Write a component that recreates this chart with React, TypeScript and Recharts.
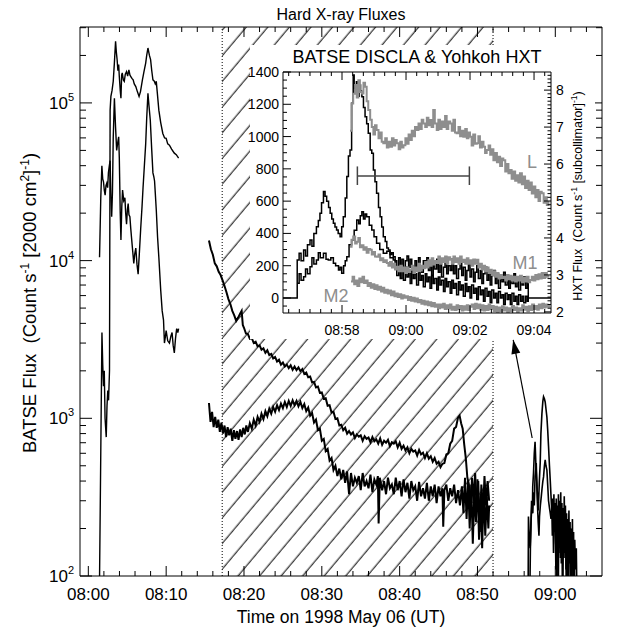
import React from 'react';
import { ComposedChart, Line, XAxis, YAxis, ReferenceArea, ReferenceLine } from 'recharts';

type Pair = [number, number];
const FONT = '"Liberation Sans", Arial, Helvetica, sans-serif';

// ================= Main panel: BATSE flux, time in minutes after 08:00 UT =================
const EARLY_A: Pair[] = [
  [1.40, 60], [1.75, 3500], [1.85, 2200], [1.95, 1600], [2.05, 2000], [2.15, 1000], [2.30, 760], [2.40, 1200],
  [2.50, 1500], [2.60, 1300], [2.72, 2000], [2.80, 90000], [2.90, 110000], [3.05, 120000], [3.20, 137000],
  [3.35, 180000], [3.50, 246000], [3.60, 210000], [3.70, 188000], [3.80, 160000], [3.90, 175000], [3.98, 147000],
  [4.10, 120000], [4.19, 107000], [4.28, 150000], [4.36, 155000], [4.50, 140000], [4.62, 137000], [4.75, 152000],
  [4.91, 158000], [5.05, 148000], [5.21, 162000], [5.35, 150000], [5.46, 147000], [5.60, 143000], [5.76, 140000],
  [5.90, 132000], [6.10, 127000], [6.30, 118000], [6.52, 110000], [6.70, 118000], [6.95, 140000], [7.15, 158000],
  [7.37, 179000], [7.50, 200000], [7.66, 223000], [7.85, 200000], [8.00, 188000], [8.15, 160000], [8.30, 140000],
  [8.45, 138000], [8.60, 132000], [8.73, 137000], [8.85, 118000], [9.06, 90000], [9.30, 75000], [9.57, 64000],
  [9.80, 60000], [10.00, 59600], [10.20, 55000], [10.42, 54000], [10.70, 51000], [11.05, 48000], [11.30, 47000],
  [11.60, 44600],
];

const EARLY_B: Pair[] = [
  [1.44, 10500], [1.60, 25000], [1.74, 40000], [1.85, 33000], [1.95, 31600], [2.05, 28000], [2.16, 26000],
  [2.27, 30000], [2.37, 31000], [2.48, 29000], [2.58, 36000], [2.70, 40000], [2.80, 43000], [2.90, 25000],
  [3.00, 19000], [3.10, 27000], [3.20, 60000], [3.35, 107000], [3.50, 70000], [3.64, 50000], [3.80, 57000],
  [3.90, 61000], [3.98, 45000], [4.10, 20000], [4.19, 13500], [4.30, 22000], [4.40, 28000], [4.55, 24000],
  [4.70, 25000], [4.80, 20000], [4.91, 17000], [5.02, 21000], [5.12, 23000], [5.22, 19500], [5.34, 19000],
  [5.45, 16000], [5.55, 14000], [5.70, 11500], [5.84, 9600], [5.96, 11000], [6.10, 12000], [6.25, 9500],
  [6.40, 8200], [6.55, 11000], [6.73, 16000], [6.90, 22000], [7.03, 29000], [7.20, 40000], [7.37, 55000],
  [7.50, 80000], [7.66, 115000], [7.80, 95000], [7.96, 78000], [8.15, 50000], [8.30, 36000], [8.42, 34000],
  [8.51, 32000], [8.60, 27000], [8.73, 21000], [8.90, 14000], [9.06, 10500], [9.30, 6500], [9.49, 4800],
  [9.66, 4200], [9.78, 3000], [9.90, 3300], [10.00, 3600], [10.20, 3100], [10.42, 3000], [10.60, 3300],
  [10.76, 3500], [10.90, 2900], [11.05, 2600], [11.20, 3200], [11.35, 3700], [11.50, 3500], [11.60, 3700],
];

const DECAY_HIGH: Pair[] = [
  [15.5, 13400], [15.75, 11800], [16.0, 10900], [16.25, 9600], [16.5, 9200], [16.75, 8500], [17.0, 8100],
  [17.25, 7500], [17.5, 6900], [17.75, 6300], [18.0, 5700], [18.25, 5300], [18.5, 4800], [18.75, 4500],
  [19.0, 4150], [19.25, 4350], [19.5, 4600], [19.7, 4800], [19.85, 3900], [20.0, 3750], [20.25, 3450],
  [20.5, 3420], [20.75, 3200], [21.0, 3230], [21.25, 3000], [21.5, 3060], [21.75, 2860], [22.0, 2900],
  [22.25, 2720], [22.5, 2780], [22.75, 2600], [23.0, 2700], [23.25, 2520], [23.5, 2560], [23.75, 2400],
  [24.0, 2450], [24.25, 2290], [24.5, 2350], [24.75, 2190], [25.0, 2260], [25.25, 2130], [25.5, 2190],
  [25.75, 2080], [26.0, 2170], [26.25, 2030], [26.5, 2130], [26.75, 2020], [27.0, 2100], [27.25, 1990],
  [27.5, 2050], [27.75, 1910], [28.0, 1950], [28.25, 1820], [28.5, 1840], [28.75, 1690], [29.0, 1700],
  [29.25, 1570], [29.5, 1590], [29.75, 1450], [30.0, 1460], [30.25, 1330], [30.5, 1340], [30.75, 1200],
  [31.0, 1210], [31.25, 1090], [31.5, 1100], [31.75, 990], [32.0, 1000], [32.25, 900], [32.5, 910],
  [32.75, 840], [33.0, 870], [33.25, 800], [33.5, 830], [33.75, 790], [34.0, 815], [34.25, 750], [34.5, 790],
  [34.75, 765], [35.0, 780], [35.25, 720], [35.5, 770], [35.75, 740], [36.0, 755], [36.25, 705], [36.5, 760],
  [36.75, 715], [37.0, 735], [37.25, 690], [37.5, 745], [37.75, 680], [38.0, 720], [38.25, 700], [38.5, 730],
  [38.75, 665], [39.0, 705], [39.25, 690], [39.5, 715], [39.75, 655], [40.0, 700], [40.25, 640], [40.5, 670],
  [40.75, 625], [41.0, 655], [41.25, 600], [41.5, 640], [41.75, 615], [42.0, 625], [42.25, 580], [42.5, 630],
  [42.75, 590], [43.0, 605], [43.25, 560], [43.5, 600], [43.75, 555], [44.0, 575], [44.25, 530], [44.5, 560],
  [44.75, 515], [45.0, 530], [45.25, 490], [45.5, 515], [45.75, 520], [46.0, 590], [46.25, 600], [46.5, 690],
  [46.75, 720], [47.0, 860], [47.25, 880], [47.5, 1010], [47.7, 1040], [47.9, 930], [48.1, 860], [48.3, 680],
  [48.5, 560], [48.7, 420], [48.9, 380], [49.1, 250], [49.3, 420], [49.5, 300], [49.7, 450], [49.9, 260],
  [50.1, 400], [50.3, 190], [50.5, 380], [50.7, 240], [50.9, 430], [51.1, 280], [51.3, 400], [51.5, 300],
];

const DECAY_LOW: Pair[] = [
  [15.5, 1250], [15.7, 950], [15.9, 1100], [16.1, 880], [16.3, 1020], [16.5, 870], [16.7, 980], [16.9, 820],
  [17.1, 940], [17.3, 800], [17.5, 900], [17.7, 760], [17.9, 880], [18.1, 780], [18.3, 860], [18.5, 720],
  [18.7, 840], [18.9, 740], [19.1, 830], [19.3, 730], [19.5, 850], [19.7, 760], [19.9, 870], [20.1, 790],
  [20.3, 900], [20.5, 820], [20.75, 930], [21.0, 860], [21.25, 980], [21.5, 900], [21.75, 1020], [22.0, 950],
  [22.25, 1070], [22.5, 990], [22.75, 1110], [23.0, 1030], [23.25, 1150], [23.5, 1070], [23.75, 1180],
  [24.0, 1100], [24.25, 1210], [24.5, 1130], [24.75, 1240], [25.0, 1160], [25.25, 1270], [25.5, 1180],
  [25.75, 1290], [26.0, 1200], [26.25, 1300], [26.5, 1210], [26.75, 1290], [27.0, 1190], [27.25, 1270],
  [27.5, 1160], [27.75, 1230], [28.0, 1110], [28.25, 1170], [28.5, 1040], [28.75, 1080], [29.0, 940],
  [29.25, 980], [29.5, 840], [29.75, 860], [30.0, 720], [30.25, 740], [30.5, 620], [30.75, 640], [31.0, 540],
  [31.25, 560], [31.5, 470], [31.75, 500], [32.0, 430], [32.25, 480], [32.5, 410], [32.75, 470], [33.0, 390],
  [33.25, 460], [33.5, 330], [33.75, 450], [34.0, 370], [34.25, 420], [34.5, 390], [34.75, 430], [35.0, 350],
  [35.25, 450], [35.5, 370], [35.75, 400], [36.0, 360], [36.25, 440], [36.5, 340], [36.75, 410], [37.0, 380],
  [37.2, 430], [37.3, 215], [37.45, 420], [37.75, 350], [38.0, 400], [38.25, 330], [38.5, 420], [38.75, 360],
  [39.0, 380], [39.25, 330], [39.5, 420], [39.75, 350], [40.0, 400], [40.25, 320], [40.5, 410], [40.75, 340],
  [41.0, 390], [41.25, 310], [41.5, 400], [41.75, 350], [42.0, 370], [42.25, 300], [42.5, 395], [42.75, 320],
  [43.0, 360], [43.25, 310], [43.5, 390], [43.75, 300], [44.0, 370], [44.25, 320], [44.5, 380], [44.75, 290],
  [45.0, 370], [45.25, 320], [45.5, 360], [45.6, 205], [45.75, 350], [46.0, 380], [46.25, 300], [46.5, 360],
  [46.75, 320], [47.0, 380], [47.25, 290], [47.5, 350], [47.75, 280], [48.0, 370], [48.2, 250], [48.4, 420],
  [48.6, 230], [48.8, 400], [49.0, 200], [49.2, 380], [49.4, 160], [49.6, 350], [49.8, 220], [50.0, 410],
  [50.2, 170], [50.4, 330], [50.6, 150], [50.8, 360], [51.0, 180], [51.2, 320], [51.4, 200], [51.5, 280],
];

const LATE_A: Pair[] = [
  [56.7, 60], [56.8, 150], [56.86, 200], [56.95, 300], [57.05, 250], [57.1, 370], [57.2, 450], [57.3, 600],
  [57.4, 710], [57.5, 520], [57.6, 405], [57.7, 330], [57.8, 260], [57.85, 290], [57.95, 400], [58.06, 520],
  [58.15, 800], [58.28, 1070], [58.4, 1280], [58.49, 1370], [58.6, 1330], [58.7, 1270], [58.8, 1150],
  [58.92, 1020], [59.02, 850], [59.13, 665], [59.25, 500], [59.35, 405], [59.45, 320], [59.56, 250],
  [59.65, 310], [59.75, 220], [59.82, 330], [59.9, 200], [59.98, 290], [60.05, 160], [60.12, 310], [60.2, 60],
  [60.26, 280], [60.33, 180], [60.4, 330], [60.47, 140], [60.55, 300], [60.62, 200], [60.7, 340], [60.77, 120],
  [60.85, 290], [60.92, 60], [61.0, 270], [61.07, 150], [61.15, 320], [61.22, 170], [61.3, 280], [61.37, 110],
  [61.45, 250], [61.52, 60], [61.6, 230], [61.67, 140], [61.75, 260], [61.82, 120], [61.9, 220], [61.97, 60],
  [62.05, 200], [62.12, 110], [62.2, 230], [62.27, 90], [62.35, 190], [62.42, 60], [62.5, 170], [62.6, 110],
  [62.7, 150], [62.8, 60],
];

const LATE_B: Pair[] = [
  [56.5, 60], [56.55, 238], [56.65, 180], [56.77, 150], [56.88, 220], [57.0, 290], [57.1, 250], [57.2, 340],
  [57.3, 280], [57.4, 430], [57.5, 480], [57.55, 520], [57.62, 400], [57.7, 290], [57.8, 220], [57.9, 180],
  [57.97, 238], [58.08, 280], [58.2, 320], [58.3, 360], [58.4, 400], [58.49, 425], [58.6, 500], [58.7, 545],
  [58.8, 500], [58.92, 470], [59.02, 380], [59.13, 300], [59.25, 270], [59.35, 250], [59.45, 230], [59.55, 270],
  [59.62, 180], [59.7, 250], [59.77, 140], [59.85, 270], [59.92, 190], [60.0, 240], [60.07, 110], [60.15, 250],
  [60.22, 170], [60.3, 220], [60.37, 60], [60.45, 240], [60.52, 150], [60.6, 260], [60.67, 130], [60.75, 220],
  [60.82, 170], [60.9, 240], [60.97, 100], [61.05, 210], [61.12, 130], [61.2, 250], [61.27, 140], [61.35, 200],
  [61.42, 60], [61.5, 190], [61.57, 120], [61.65, 230], [61.72, 100], [61.8, 180], [61.87, 130], [61.95, 200],
  [62.02, 60], [62.1, 170], [62.17, 120], [62.25, 190], [62.32, 80], [62.4, 160], [62.5, 60],
];

const ARROW: Pair[] = [[57.03, 750], [54.59, 3140]];
const HATCH_START = 17.2;
const HATCH_END = 52.0;

const MAIN_X_DOMAIN: [number, number] = [-1.07, 66];
const MAIN_Y_DOMAIN: [number, number] = [100, 303000];
const MAIN_X_MAJOR = [0, 10, 20, 30, 40, 50, 60];
const MAIN_X_LABELS = ['08:00', '08:10', '08:20', '08:30', '08:40', '08:50', '09:00'];
const MAIN_X_TICKS = [0, 2, 4, 6, 8, 10, 12, 14, 16, 18, 20, 22, 24, 26, 28, 30, 32, 34, 36, 38, 40, 42, 44, 46, 48, 50, 52, 54, 56, 58, 60, 62, 64];
const MAIN_Y_TICKS = [100, 200, 300, 400, 500, 600, 700, 800, 900, 1000, 2000, 3000, 4000, 5000, 6000, 7000, 8000, 9000,
  10000, 20000, 30000, 40000, 50000, 60000, 70000, 80000, 90000, 100000, 200000, 300000];

// ================= Inset: BATSE DISCLA (left axis) & Yohkoh HXT (right axis) =================
const INSET_BATSE_1: Pair[] = [
  [56.15, 0], [56.58, 0], [56.6, 235], [56.66, 277], [56.72, 230], [56.8, 297], [56.86, 260], [56.92, 330],
  [57.0, 360], [57.06, 320], [57.12, 400], [57.2, 442], [57.26, 480], [57.31, 525], [57.36, 590], [57.42, 660],
  [57.47, 630], [57.52, 600], [57.58, 560], [57.63, 525], [57.68, 490], [57.73, 463], [57.78, 440], [57.83, 421],
  [57.88, 400], [57.94, 380], [57.99, 442], [58.04, 504], [58.1, 620], [58.15, 752], [58.2, 880], [58.25, 917],
  [58.3, 1206], [58.35, 1382], [58.38, 1300], [58.41, 1268], [58.45, 1340], [58.48, 1300], [58.51, 1250],
  [58.54, 1320], [58.58, 1280], [58.62, 1247], [58.67, 1180], [58.72, 1123], [58.77, 1080], [58.82, 1020],
  [58.88, 917], [58.93, 897], [58.98, 793], [59.03, 720], [59.08, 649], [59.14, 560], [59.19, 504], [59.24, 440],
  [59.29, 380], [59.35, 350], [59.4, 310], [59.45, 297], [59.5, 270], [59.55, 280], [59.6, 256],
  [59.66, 230], [59.71, 190], [59.77, 250], [59.82, 200], [59.87, 240], [59.92, 170], [59.98, 230], [60.03, 260],
  [60.08, 190], [60.13, 240], [60.18, 200], [60.23, 150], [60.28, 230], [60.33, 180], [60.39, 250], [60.44, 200],
  [60.49, 160], [60.54, 230], [60.6, 190], [60.65, 250], [60.7, 170], [60.75, 220], [60.8, 140], [60.85, 210],
  [60.9, 180], [60.96, 240], [61.01, 160], [61.06, 210], [61.11, 130], [61.17, 190], [61.22, 230], [61.27, 150],
  [61.32, 200], [61.38, 170], [61.43, 240], [61.48, 150], [61.53, 200], [61.58, 120], [61.64, 180], [61.69, 220],
  [61.74, 140], [61.79, 190], [61.85, 110], [61.9, 170], [61.95, 210], [62.0, 130], [62.05, 180], [62.11, 100],
  [62.16, 160], [62.21, 200], [62.26, 120], [62.32, 170], [62.37, 90], [62.42, 150], [62.47, 190], [62.53, 110],
  [62.58, 160], [62.63, 80], [62.68, 140], [62.74, 170], [62.79, 90], [62.84, 150], [62.89, 60], [62.95, 130],
  [63.0, 100], [63.05, 160], [63.1, 80], [63.16, 140], [63.21, 60], [63.26, 120], [63.31, 90], [63.37, 150],
  [63.42, 70], [63.47, 130], [63.52, 50], [63.58, 110], [63.63, 80], [63.68, 130], [63.74, 60], [63.79, 100],
  [63.82, 0], [64.53, 0],
];

const INSET_BATSE_2: Pair[] = [
  [56.6, 91], [56.66, 150], [56.72, 110], [56.8, 132], [56.86, 180], [56.92, 150], [57.0, 194], [57.06, 250],
  [57.12, 210], [57.2, 235], [57.26, 280], [57.32, 250], [57.42, 277], [57.5, 240], [57.57, 235], [57.65, 250],
  [57.73, 215], [57.8, 200], [57.89, 173], [57.94, 190], [57.99, 153], [58.05, 200], [58.1, 230], [58.15, 256],
  [58.22, 330], [58.3, 359], [58.38, 420], [58.46, 483], [58.52, 460], [58.57, 510], [58.62, 535], [58.67, 490],
  [58.72, 520], [58.77, 504], [58.85, 450], [58.93, 421], [59.0, 380], [59.08, 339], [59.18, 300], [59.29, 277],
  [59.4, 290], [59.5, 250], [59.6, 235],
  [59.66, 180], [59.71, 140], [59.77, 200], [59.82, 120], [59.87, 170], [59.92, 110], [59.98, 190], [60.03, 130],
  [60.08, 160], [60.13, 90], [60.18, 170], [60.23, 120], [60.28, 150], [60.33, 80], [60.39, 160], [60.44, 110],
  [60.49, 140], [60.54, 70], [60.6, 150], [60.65, 100], [60.7, 130], [60.75, 60], [60.8, 140], [60.85, 90],
  [60.9, 120], [60.96, 50], [61.01, 130], [61.06, 80], [61.11, 110], [61.17, 40], [61.22, 120], [61.27, 70],
  [61.32, 100], [61.38, 30], [61.43, 110], [61.48, 60], [61.53, 90], [61.58, 20], [61.64, 100], [61.69, 50],
  [61.74, 80], [61.79, 10], [61.85, 90], [61.9, 40], [61.95, 70], [62.0, 0], [62.05, 80], [62.11, 30],
  [62.16, 60], [62.21, -10], [62.26, 70], [62.32, 20], [62.37, 50], [62.42, -20], [62.47, 60], [62.53, 10],
  [62.58, 40], [62.63, -30], [62.68, 50], [62.74, 0], [62.79, 30], [62.84, -30], [62.89, 40], [62.95, 0],
  [63.0, 20], [63.05, -40], [63.1, 30], [63.16, -10], [63.21, 20], [63.26, -40], [63.31, 30], [63.37, -20],
  [63.42, 10], [63.47, -40], [63.52, 20], [63.58, -20], [63.63, 10], [63.68, -30], [63.74, 10], [63.79, -20],
  [63.82, 0],
];

const INSET_HXT_L: Pair[] = [
  [58.25, 6.9], [58.3, 7.64], [58.35, 7.9], [58.41, 8.14], [58.46, 7.8], [58.51, 8.27], [58.56, 7.95],
  [58.62, 7.91], [58.67, 8.2], [58.72, 8.09], [58.77, 7.7], [58.82, 7.46], [58.88, 7.2], [58.93, 7.0],
  [58.98, 6.8], [59.03, 7.05], [59.08, 6.92], [59.14, 6.7], [59.19, 6.85], [59.24, 6.6], [59.29, 6.56],
  [59.35, 6.7], [59.4, 6.45], [59.45, 6.6], [59.5, 6.47], [59.56, 6.7], [59.61, 6.5], [59.66, 6.65],
  [59.71, 6.56], [59.77, 6.4], [59.82, 6.6], [59.87, 6.45], [59.92, 6.51], [59.98, 6.7], [60.03, 6.55],
  [60.08, 6.8], [60.13, 6.65], [60.18, 6.9], [60.23, 6.75], [60.28, 7.0], [60.33, 6.92], [60.39, 7.1],
  [60.44, 6.95], [60.49, 7.2], [60.54, 7.1], [60.6, 7.0], [60.65, 7.25], [60.7, 7.05], [60.75, 7.19],
  [60.8, 7.0], [60.85, 7.46], [60.9, 7.1], [60.96, 6.92], [61.01, 7.2], [61.06, 6.95], [61.11, 7.15],
  [61.17, 7.0], [61.22, 7.3], [61.27, 6.95], [61.32, 7.15], [61.38, 7.1], [61.43, 6.9], [61.48, 7.2],
  [61.53, 6.85], [61.58, 6.83], [61.64, 7.0], [61.69, 6.75], [61.74, 6.9], [61.79, 6.74], [61.85, 6.95],
  [61.9, 6.7], [61.95, 6.85], [62.0, 6.74], [62.05, 6.5], [62.1, 6.8], [62.16, 6.55], [62.21, 6.56],
  [62.26, 6.75], [62.31, 6.45], [62.37, 6.6], [62.42, 6.47], [62.47, 6.3], [62.52, 6.38], [62.58, 6.5],
  [62.63, 6.25], [62.68, 6.4], [62.73, 6.1], [62.79, 6.3], [62.84, 6.05], [62.89, 6.2], [62.94, 5.95],
  [63.0, 6.15], [63.04, 6.1], [63.1, 5.8], [63.15, 6.0], [63.2, 5.75], [63.25, 5.84], [63.3, 5.6],
  [63.36, 5.8], [63.41, 5.55], [63.46, 5.7], [63.51, 5.5], [63.56, 5.75], [63.62, 5.45], [63.67, 5.66],
  [63.72, 5.35], [63.77, 5.55], [63.83, 5.3], [63.88, 5.5], [63.93, 5.2], [63.98, 5.39], [64.04, 5.1],
  [64.09, 5.3], [64.14, 5.0], [64.19, 5.25], [64.24, 5.21], [64.3, 4.95], [64.35, 5.1], [64.4, 4.89],
  [64.45, 5.0],
];

const INSET_HXT_M1: Pair[] = [
  [58.25, 3.76], [58.3, 3.95], [58.35, 4.04], [58.41, 3.85], [58.46, 3.9], [58.51, 4.0], [58.56, 3.75],
  [58.62, 3.8], [58.67, 3.68], [58.72, 3.75], [58.77, 3.6], [58.83, 3.7], [58.88, 3.68], [58.93, 3.55],
  [58.98, 3.62], [59.03, 3.5], [59.08, 3.49], [59.14, 3.55], [59.19, 3.4], [59.24, 3.45], [59.29, 3.35],
  [59.35, 3.4], [59.4, 3.32], [59.45, 3.25], [59.5, 3.35], [59.56, 3.2], [59.61, 3.3], [59.66, 3.15],
  [59.71, 3.22], [59.77, 3.1], [59.82, 3.25], [59.87, 3.1], [59.92, 3.2], [59.98, 3.05], [60.03, 3.2],
  [60.08, 3.08], [60.13, 3.14], [60.18, 3.25], [60.23, 3.05], [60.28, 3.2], [60.33, 3.1], [60.39, 3.3],
  [60.44, 3.12], [60.49, 3.25], [60.54, 3.18], [60.6, 3.35], [60.65, 3.2], [60.7, 3.4], [60.75, 3.25],
  [60.8, 3.45], [60.85, 3.28], [60.9, 3.38], [60.96, 3.32], [61.01, 3.5], [61.06, 3.3], [61.11, 3.45],
  [61.17, 3.35], [61.22, 3.5], [61.27, 3.3], [61.32, 3.48], [61.38, 3.41], [61.43, 3.3], [61.48, 3.5],
  [61.53, 3.35], [61.58, 3.45], [61.64, 3.3], [61.69, 3.5], [61.74, 3.35], [61.79, 3.41], [61.85, 3.3],
  [61.9, 3.45], [61.95, 3.3], [62.0, 3.4], [62.05, 3.25], [62.1, 3.42], [62.16, 3.3], [62.21, 3.41],
  [62.26, 3.2], [62.31, 3.3], [62.37, 3.15], [62.42, 3.25], [62.47, 3.1], [62.52, 3.2], [62.58, 3.05],
  [62.63, 3.14], [62.68, 3.0], [62.73, 3.1], [62.79, 2.95], [62.84, 3.05], [62.89, 2.9], [62.94, 3.0],
  [63.0, 2.92], [63.04, 2.95], [63.1, 2.85], [63.15, 3.0], [63.2, 2.88], [63.25, 2.98], [63.3, 2.85],
  [63.36, 2.95], [63.41, 2.82], [63.46, 2.95], [63.51, 2.85], [63.56, 2.98], [63.62, 2.8], [63.67, 2.92],
  [63.72, 2.82], [63.77, 2.95], [63.83, 2.8], [63.88, 2.86], [63.93, 2.95], [63.98, 2.85], [64.04, 3.0],
  [64.09, 2.88], [64.14, 3.02], [64.19, 2.9], [64.24, 3.05], [64.3, 2.92], [64.35, 3.05], [64.4, 2.95],
  [64.45, 3.0],
];

const INSET_HXT_M2: Pair[] = [
  [58.28, 2.82], [58.33, 2.95], [58.38, 2.75], [58.43, 2.85], [58.48, 2.7], [58.54, 2.9], [58.59, 2.8],
  [58.64, 2.95], [58.69, 2.78], [58.75, 2.85], [58.8, 2.7], [58.85, 2.78], [58.9, 2.65], [58.96, 2.75],
  [59.01, 2.62], [59.06, 2.72], [59.11, 2.6], [59.17, 2.68], [59.22, 2.55], [59.27, 2.65], [59.32, 2.52],
  [59.38, 2.6], [59.43, 2.5], [59.48, 2.58], [59.53, 2.45], [59.59, 2.55], [59.64, 2.42], [59.69, 2.5],
  [59.74, 2.4], [59.8, 2.48], [59.85, 2.36], [59.9, 2.45], [59.95, 2.38], [60.01, 2.42], [60.06, 2.32],
  [60.11, 2.4], [60.16, 2.3], [60.22, 2.38], [60.27, 2.28], [60.32, 2.36], [60.37, 2.26], [60.43, 2.32],
  [60.48, 2.22], [60.53, 2.3], [60.58, 2.2], [60.64, 2.28], [60.69, 2.18], [60.74, 2.26], [60.79, 2.15],
  [60.85, 2.24], [60.9, 2.14], [60.95, 2.2], [61.0, 2.1], [61.06, 2.2], [61.11, 2.12], [61.16, 2.22],
  [61.21, 2.08], [61.27, 2.18], [61.32, 2.1], [61.37, 2.2], [61.42, 2.06], [61.48, 2.14], [61.53, 2.05],
  [61.58, 2.18], [61.63, 2.08], [61.69, 2.16], [61.74, 2.04], [61.79, 2.15], [61.84, 2.06], [61.9, 2.18],
  [61.95, 2.05], [62.0, 2.14], [62.05, 2.2], [62.11, 2.08], [62.16, 2.22], [62.21, 2.1], [62.26, 2.2],
  [62.32, 2.06], [62.37, 2.18], [62.42, 2.04], [62.47, 2.16], [62.53, 2.05], [62.58, 2.2], [62.63, 2.08],
  [62.68, 2.16], [62.74, 2.02], [62.79, 2.14], [62.84, 2.0], [62.89, 2.12], [62.95, 2.02], [63.0, 2.15],
  [63.05, 2.04], [63.1, 2.12], [63.16, 2.0], [63.21, 2.1], [63.26, 2.02], [63.31, 2.16], [63.37, 2.05],
  [63.42, 2.12], [63.47, 2.0], [63.52, 2.1], [63.58, 2.04], [63.63, 2.18], [63.68, 2.06], [63.73, 2.14],
  [63.79, 2.02], [63.84, 2.15], [63.89, 2.05], [63.94, 2.2], [64.0, 2.08], [64.05, 2.16], [64.1, 2.06],
  [64.15, 2.2], [64.21, 2.1], [64.26, 2.22], [64.31, 2.12], [64.36, 2.2], [64.42, 2.14], [64.47, 2.19],
];

const ERRBAR_T: [number, number] = [58.48, 61.98];
const ERRBAR_V = 756;
const ERRBAR_CAP: [number, number] = [700, 815];

const INSET_X_DOMAIN: [number, number] = [56.156, 64.53];
const INSET_L_DOMAIN: [number, number] = [-93, 1400];
const INSET_R_DOMAIN: [number, number] = [1.97, 8.49];
const INSET_X_MAJOR = [58, 60, 62, 64];
const INSET_X_LABELS = ['08:58', '09:00', '09:02', '09:04'];

const INSET_X_TICKS: number[] = [];
for (let i = 1; i <= 25; i++) { const v = 56 + i / 3; if (v < INSET_X_DOMAIN[1]) INSET_X_TICKS.push(v); }
const INSET_L_TICKS: number[] = [];
for (let v = -50; v <= 1400; v += 50) INSET_L_TICKS.push(v);
const INSET_R_TICKS: number[] = [];
for (let i = 0; i <= 64; i++) INSET_R_TICKS.push(Math.round((2 + i * 0.1) * 10) / 10);

const toPts = (a: Pair[]) => a.map(([t, v]) => ({ t, v }));

// ================= Tick factory (IDL-like inward ticks) =================
type Side = 'left' | 'right' | 'top' | 'bottom';
function makeTick(side: Side, majorLen: number, minorLen: number, isMajor: (v: number) => boolean,
  label?: (v: number, x: number, y: number) => React.ReactNode) {
  return (props: any) => {
    const { x, y, payload } = props;
    const v = payload.value;
    const major = isMajor(v);
    const len = major ? majorLen : minorLen;
    let line: React.ReactNode = null;
    if (side === 'left') line = <line x1={x} y1={y} x2={x + len} y2={y} stroke="#000" strokeWidth={1} />;
    if (side === 'right') line = <line x1={x} y1={y} x2={x - len} y2={y} stroke="#000" strokeWidth={1} />;
    if (side === 'bottom') line = <line x1={x} y1={y} x2={x} y2={y - len} stroke="#000" strokeWidth={1} />;
    if (side === 'top') line = <line x1={x} y1={y} x2={x} y2={y + len} stroke="#000" strokeWidth={1} />;
    return (
      <g>
        {line}
        {major && label ? label(v, x, y) : null}
      </g>
    );
  };
}

const isDecade = (v: number) => Math.abs(Math.log10(v) - Math.round(Math.log10(v))) < 1e-6;
const isTenMin = (v: number) => MAIN_X_MAJOR.indexOf(v) >= 0;
const isEvenMin = (v: number) => Math.abs(v - Math.round(v)) < 1e-6 && Math.round(v) % 2 === 0;
const isInt = (v: number) => Math.abs(v - Math.round(v)) < 1e-6;
const isHundred2 = (v: number) => v % 200 === 0;

const mainBottomTick = makeTick('bottom', 10, 5, isTenMin, (v, x, y) => (
  <text x={x} y={y + 24} textAnchor="middle" fontSize={17} fill="#000" fontFamily={FONT}>
    {MAIN_X_LABELS[MAIN_X_MAJOR.indexOf(v)]}
  </text>
));
const mainTopTick = makeTick('top', 10, 5, isTenMin);
const mainLeftTick = makeTick('left', 12, 6, isDecade, (v, x, y) => (
  <text x={x - 6} y={y + 6} textAnchor="end" fontSize={17} fill="#000" fontFamily={FONT}>
    10<tspan dy={-8} fontSize={11}>{Math.round(Math.log10(v))}</tspan>
  </text>
));
const mainRightTick = makeTick('right', 12, 6, isDecade);

const insetBottomTick = makeTick('bottom', 8, 4, isEvenMin, (v, x, y) => (
  <text x={x} y={y + 22} textAnchor="middle" fontSize={14} fill="#000" fontFamily={FONT}>
    {INSET_X_LABELS[INSET_X_MAJOR.indexOf(Math.round(v))]}
  </text>
));
const insetTopTick = makeTick('top', 8, 4, isEvenMin);
const insetLeftTick = makeTick('left', 8, 4, isHundred2, (v, x, y) => (
  <text x={x - 4} y={y + 5} textAnchor="end" fontSize={14} fill="#000" fontFamily={FONT}>{v}</text>
));
const insetRightTick = makeTick('right', 7, 3.5, isInt, (v, x, y) => (
  <text x={x + 5} y={y + 5} textAnchor="start" fontSize={14} fill="#000" fontFamily={FONT}>{Math.round(v)}</text>
));

const ArrowHead = (props: any) => {
  const { cx, cy, index, points } = props;
  if (index !== ARROW.length - 1 || cx == null || cy == null) return <g key={`ah-${index}`} />;
  let ang = -101;
  if (points && points.length > 1) ang = (Math.atan2(cy - points[0].y, cx - points[0].x) * 180) / Math.PI;
  return (
    <polygon key={`ah-${index}`} points="0,0 -14,-4.5 -14,4.5" fill="#000"
      transform={`translate(${cx},${cy}) rotate(${ang})`} />
  );
};

const GRAY = '#8e8e8e';
const axisCommon = { tickSize: 0, tickMargin: 0, tickLine: false, interval: 0 as const, allowDataOverflow: true };

export default function App() {
  return (
    <div style={{ position: 'absolute', left: 0, top: 0, width: 617, height: 628, background: '#fff', fontFamily: FONT }}>
      <svg width={0} height={0} style={{ position: 'absolute' }}>
        <defs>
          <pattern id="hatch" patternUnits="userSpaceOnUse" width={16.5} height={40} patternTransform="rotate(40)">
            <line x1={8} y1={-2} x2={8} y2={42} stroke="#000" strokeWidth={1} />
          </pattern>
        </defs>
      </svg>

      <div style={{ position: 'absolute', left: 0, top: 0 }}>
        <ComposedChart width={617} height={628} margin={{ top: 26, right: 14, bottom: 32, left: 20 }}>
          <XAxis xAxisId="b" type="number" dataKey="t" domain={MAIN_X_DOMAIN} ticks={MAIN_X_TICKS} {...axisCommon}
            height={20} axisLine={{ stroke: '#000', strokeWidth: 1 }} tick={mainBottomTick} />
          <XAxis xAxisId="t" orientation="top" type="number" dataKey="t" domain={MAIN_X_DOMAIN} ticks={MAIN_X_TICKS}
            {...axisCommon} height={1} axisLine={{ stroke: '#000', strokeWidth: 1 }} tick={mainTopTick} />
          <YAxis yAxisId="l" type="number" scale="log" domain={MAIN_Y_DOMAIN} ticks={MAIN_Y_TICKS} {...axisCommon}
            width={60} axisLine={{ stroke: '#000', strokeWidth: 1 }} tick={mainLeftTick} />
          <YAxis yAxisId="r" orientation="right" type="number" scale="log" domain={MAIN_Y_DOMAIN} ticks={MAIN_Y_TICKS}
            {...axisCommon} width={1} axisLine={{ stroke: '#000', strokeWidth: 1 }} tick={mainRightTick} />

          <ReferenceArea xAxisId="b" yAxisId="l" x1={HATCH_START} x2={HATCH_END} fill="url(#hatch)" fillOpacity={1}
            stroke="none" />
          <ReferenceLine xAxisId="b" yAxisId="l" x={HATCH_START} stroke="#000" strokeWidth={1} strokeDasharray="1 2" />
          <ReferenceLine xAxisId="b" yAxisId="l" x={HATCH_END} stroke="#000" strokeWidth={1} strokeDasharray="1 2" />

          <Line xAxisId="b" yAxisId="l" data={toPts(EARLY_A)} dataKey="v" type="linear" stroke="#000" strokeWidth={1.4}
            dot={false} isAnimationActive={false} />
          <Line xAxisId="b" yAxisId="l" data={toPts(EARLY_B)} dataKey="v" type="linear" stroke="#000" strokeWidth={1.4}
            dot={false} isAnimationActive={false} />
          <Line xAxisId="b" yAxisId="l" data={toPts(DECAY_HIGH)} dataKey="v" type="linear" stroke="#000" strokeWidth={2}
            dot={false} isAnimationActive={false} />
          <Line xAxisId="b" yAxisId="l" data={toPts(DECAY_LOW)} dataKey="v" type="linear" stroke="#000" strokeWidth={2}
            dot={false} isAnimationActive={false} />
          <Line xAxisId="b" yAxisId="l" data={toPts(LATE_A)} dataKey="v" type="linear" stroke="#000" strokeWidth={1.6}
            dot={false} isAnimationActive={false} />
          <Line xAxisId="b" yAxisId="l" data={toPts(LATE_B)} dataKey="v" type="linear" stroke="#000" strokeWidth={1.6}
            dot={false} isAnimationActive={false} />
          <Line xAxisId="b" yAxisId="l" data={toPts(ARROW)} dataKey="v" type="linear" stroke="#000" strokeWidth={1.2}
            dot={ArrowHead} isAnimationActive={false} />
        </ComposedChart>
      </div>

      <div style={{ position: 'absolute', left: 250, top: 45, width: 345, height: 294, background: '#fff' }} />

      <div style={{ position: 'absolute', left: 242, top: 45, width: 353, height: 294 }}>
        <ComposedChart width={353} height={294} margin={{ top: 26, right: 0, bottom: 0, left: 0 }}>
          <XAxis xAxisId="b" type="number" dataKey="t" domain={INSET_X_DOMAIN} ticks={INSET_X_TICKS} {...axisCommon}
            height={26} axisLine={{ stroke: '#000', strokeWidth: 1 }} tick={insetBottomTick} />
          <XAxis xAxisId="t" orientation="top" type="number" dataKey="t" domain={INSET_X_DOMAIN} ticks={INSET_X_TICKS}
            {...axisCommon} height={1} axisLine={{ stroke: '#000', strokeWidth: 1 }} tick={insetTopTick} />
          <YAxis yAxisId="l" type="number" domain={INSET_L_DOMAIN} ticks={INSET_L_TICKS} {...axisCommon} width={41}
            axisLine={{ stroke: '#000', strokeWidth: 1 }} tick={insetLeftTick} />
          <YAxis yAxisId="r" orientation="right" type="number" domain={INSET_R_DOMAIN} ticks={INSET_R_TICKS}
            {...axisCommon} width={44} axisLine={{ stroke: '#000', strokeWidth: 1 }} tick={insetRightTick} />

          <Line xAxisId="b" yAxisId="l" data={toPts(INSET_BATSE_2)} dataKey="v" type="stepAfter" stroke="#000"
            strokeWidth={1.5} dot={false} isAnimationActive={false} />
          <Line xAxisId="b" yAxisId="l" data={toPts(INSET_BATSE_1)} dataKey="v" type="stepAfter" stroke="#000"
            strokeWidth={1.5} dot={false} isAnimationActive={false} />
          <Line xAxisId="b" yAxisId="r" data={toPts(INSET_HXT_M2)} dataKey="v" type="stepAfter" stroke={GRAY}
            strokeWidth={2} dot={false} isAnimationActive={false} />
          <Line xAxisId="b" yAxisId="r" data={toPts(INSET_HXT_M1)} dataKey="v" type="stepAfter" stroke={GRAY}
            strokeWidth={2} dot={false} isAnimationActive={false} />
          <Line xAxisId="b" yAxisId="r" data={toPts(INSET_HXT_L)} dataKey="v" type="stepAfter" stroke={GRAY}
            strokeWidth={2} dot={false} isAnimationActive={false} />

          <ReferenceLine xAxisId="b" yAxisId="l" segment={[{ x: ERRBAR_T[0], y: ERRBAR_V }, { x: ERRBAR_T[1], y: ERRBAR_V }]}
            stroke="#444" strokeWidth={1.5} />
          <ReferenceLine xAxisId="b" yAxisId="l" segment={[{ x: ERRBAR_T[0], y: ERRBAR_CAP[0] }, { x: ERRBAR_T[0], y: ERRBAR_CAP[1] }]}
            stroke="#444" strokeWidth={1.5} />
          <ReferenceLine xAxisId="b" yAxisId="l" segment={[{ x: ERRBAR_T[1], y: ERRBAR_CAP[0] }, { x: ERRBAR_T[1], y: ERRBAR_CAP[1] }]}
            stroke="#444" strokeWidth={1.5} />
        </ComposedChart>
      </div>

      <svg width={617} height={628} style={{ position: 'absolute', left: 0, top: 0, pointerEvents: 'none' }}
        fontFamily={FONT}>
        <text x={341} y={20} textAnchor="middle" fontSize={16} fill="#000">Hard X-ray Fluxes</text>
        <text x={341} y={623} textAnchor="middle" fontSize={17.5} fill="#000">Time on 1998 May 06 (UT)</text>
        <text transform="rotate(-90)" x={-303} y={36} textAnchor="middle" fontSize={18.5} fill="#000"
          style={{ whiteSpace: 'pre' }}>
          BATSE Flux  (Count s<tspan dy={-7} fontSize={12}>-1</tspan><tspan dy={7}> [2000 cm</tspan>
          <tspan dy={-7} fontSize={12}>2</tspan><tspan dy={7}>]</tspan><tspan dy={-7} fontSize={12}>-1</tspan>
          <tspan dy={7}>)</tspan>
        </text>
        <text x={417} y={63} textAnchor="middle" fontSize={18} fill="#000">BATSE DISCLA &amp; Yohkoh HXT</text>
        <text transform="rotate(-90)" x={-196} y={582} textAnchor="middle" fontSize={12.5} fill="#000"
          style={{ whiteSpace: 'pre' }}>
          HXT Flux  (Count s<tspan dy={-5} fontSize={8.5}>-1</tspan><tspan dy={5}> [subcollimator]</tspan>
          <tspan dy={-5} fontSize={8.5}>-1</tspan><tspan dy={5}>)</tspan>
        </text>
        <text x={532} y={168} textAnchor="middle" fontSize={18} fill={GRAY}>L</text>
        <text x={525} y={269} textAnchor="middle" fontSize={18} fill={GRAY}>M1</text>
        <text x={336} y={302} textAnchor="middle" fontSize={18} fill={GRAY}>M2</text>
      </svg>
    </div>
  );
}
